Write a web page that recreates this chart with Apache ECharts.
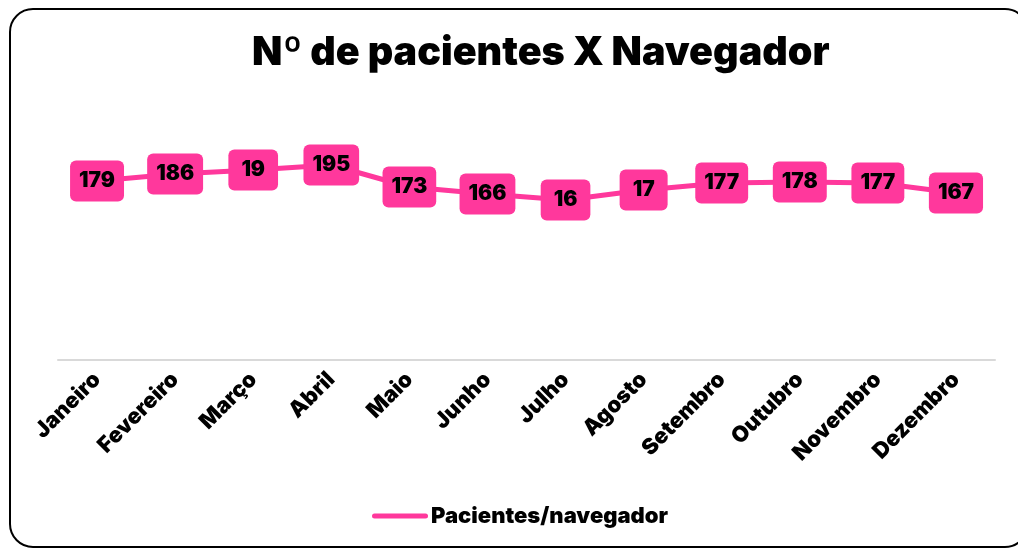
<!DOCTYPE html>
<html>
<head>
<meta charset="utf-8">
<script src="https://cdn.jsdelivr.net/npm/echarts@6/dist/echarts.min.js"></script>
<style>
html,body{margin:0;padding:0;background:#fff;}
#frame{position:absolute;left:9px;top:8px;width:1020px;height:540px;border:2px solid #000;border-radius:24px;box-sizing:border-box;}
#chart{position:absolute;left:0;top:0;width:1018px;height:549px;}
</style>
</head>
<body>
<div id="frame"></div>
<div id="chart"></div>
<script>
const categories = ['Janeiro','Fevereiro','Março','Abril','Maio','Junho','Julho','Agosto','Setembro','Outubro','Novembro','Dezembro'];
const values = [1.79, 1.86, 1.9, 1.95, 1.73, 1.66, 1.6, 1.7, 1.77, 1.78, 1.77, 1.67];
const seriesName = 'Pacientes/navegador';
const titleText = 'Nº de pacientes X Navegador';

const FONT = 'Inter';
const PINK = '#FF389C';

const chart = echarts.init(document.getElementById('chart'));
const fmt = v => String(v).replace('.', '');
const dataItems = values.map(v => {
  const s = fmt(v);
  return {
    value: v,
    label: { padding: s.length >= 3 ? [11, 9, 9, 9] : [11, 13, 9, 13] }
  };
});

chart.setOption({
  animation: false,
  title: {
    text: titleText,
    left: 247,
    top: 28,
    textStyle: { fontFamily: FONT, fontWeight: 900, fontSize: 39.5, color: '#000' }
  },
  legend: {
    data: [seriesName],
    left: 367,
    top: 500,
    icon: 'path://M2,0 L53,0 A2.5,2.5 0 0 1 53,5 L2,5 A2.5,2.5 0 0 1 2,0 Z',
    itemWidth: 56,
    itemHeight: 5,
    itemGap: 4,
    textStyle: { fontFamily: FONT, fontWeight: 900, fontSize: 22, color: '#000', padding: [0, 0, 0, -2] }
  },
  grid: { left: 58, right: 23, top: 110, bottom: 189, containLabel: false },
  xAxis: {
    type: 'category',
    data: categories,
    boundaryGap: true,
    axisLine: { lineStyle: { color: '#d9d9d9', width: 2 } },
    axisTick: { show: false },
    axisLabel: {
      rotate: 45,
      margin: 16,
      interval: 0,
      fontFamily: FONT,
      fontWeight: 900,
      fontSize: 22,
      color: '#000'
    }
  },
  yAxis: {
    type: 'value',
    min: 0,
    max: 2.5,
    interval: 0.5,
    show: false,
    splitLine: { show: false }
  },
  series: [{
    name: seriesName,
    type: 'line',
    data: dataItems,
    symbol: 'circle',
    symbolSize: 2,
    showSymbol: true,
    lineStyle: { color: PINK, width: 5, cap: 'round' },
    itemStyle: { color: PINK },
    label: {
      show: true,
      position: 'inside',
      formatter: p => fmt(p.value),
      backgroundColor: PINK,
      borderRadius: 6,
      color: '#000',
      fontFamily: FONT,
      fontWeight: 900,
      fontSize: 21
    }
  }]
});
</script>
</body>
</html>
